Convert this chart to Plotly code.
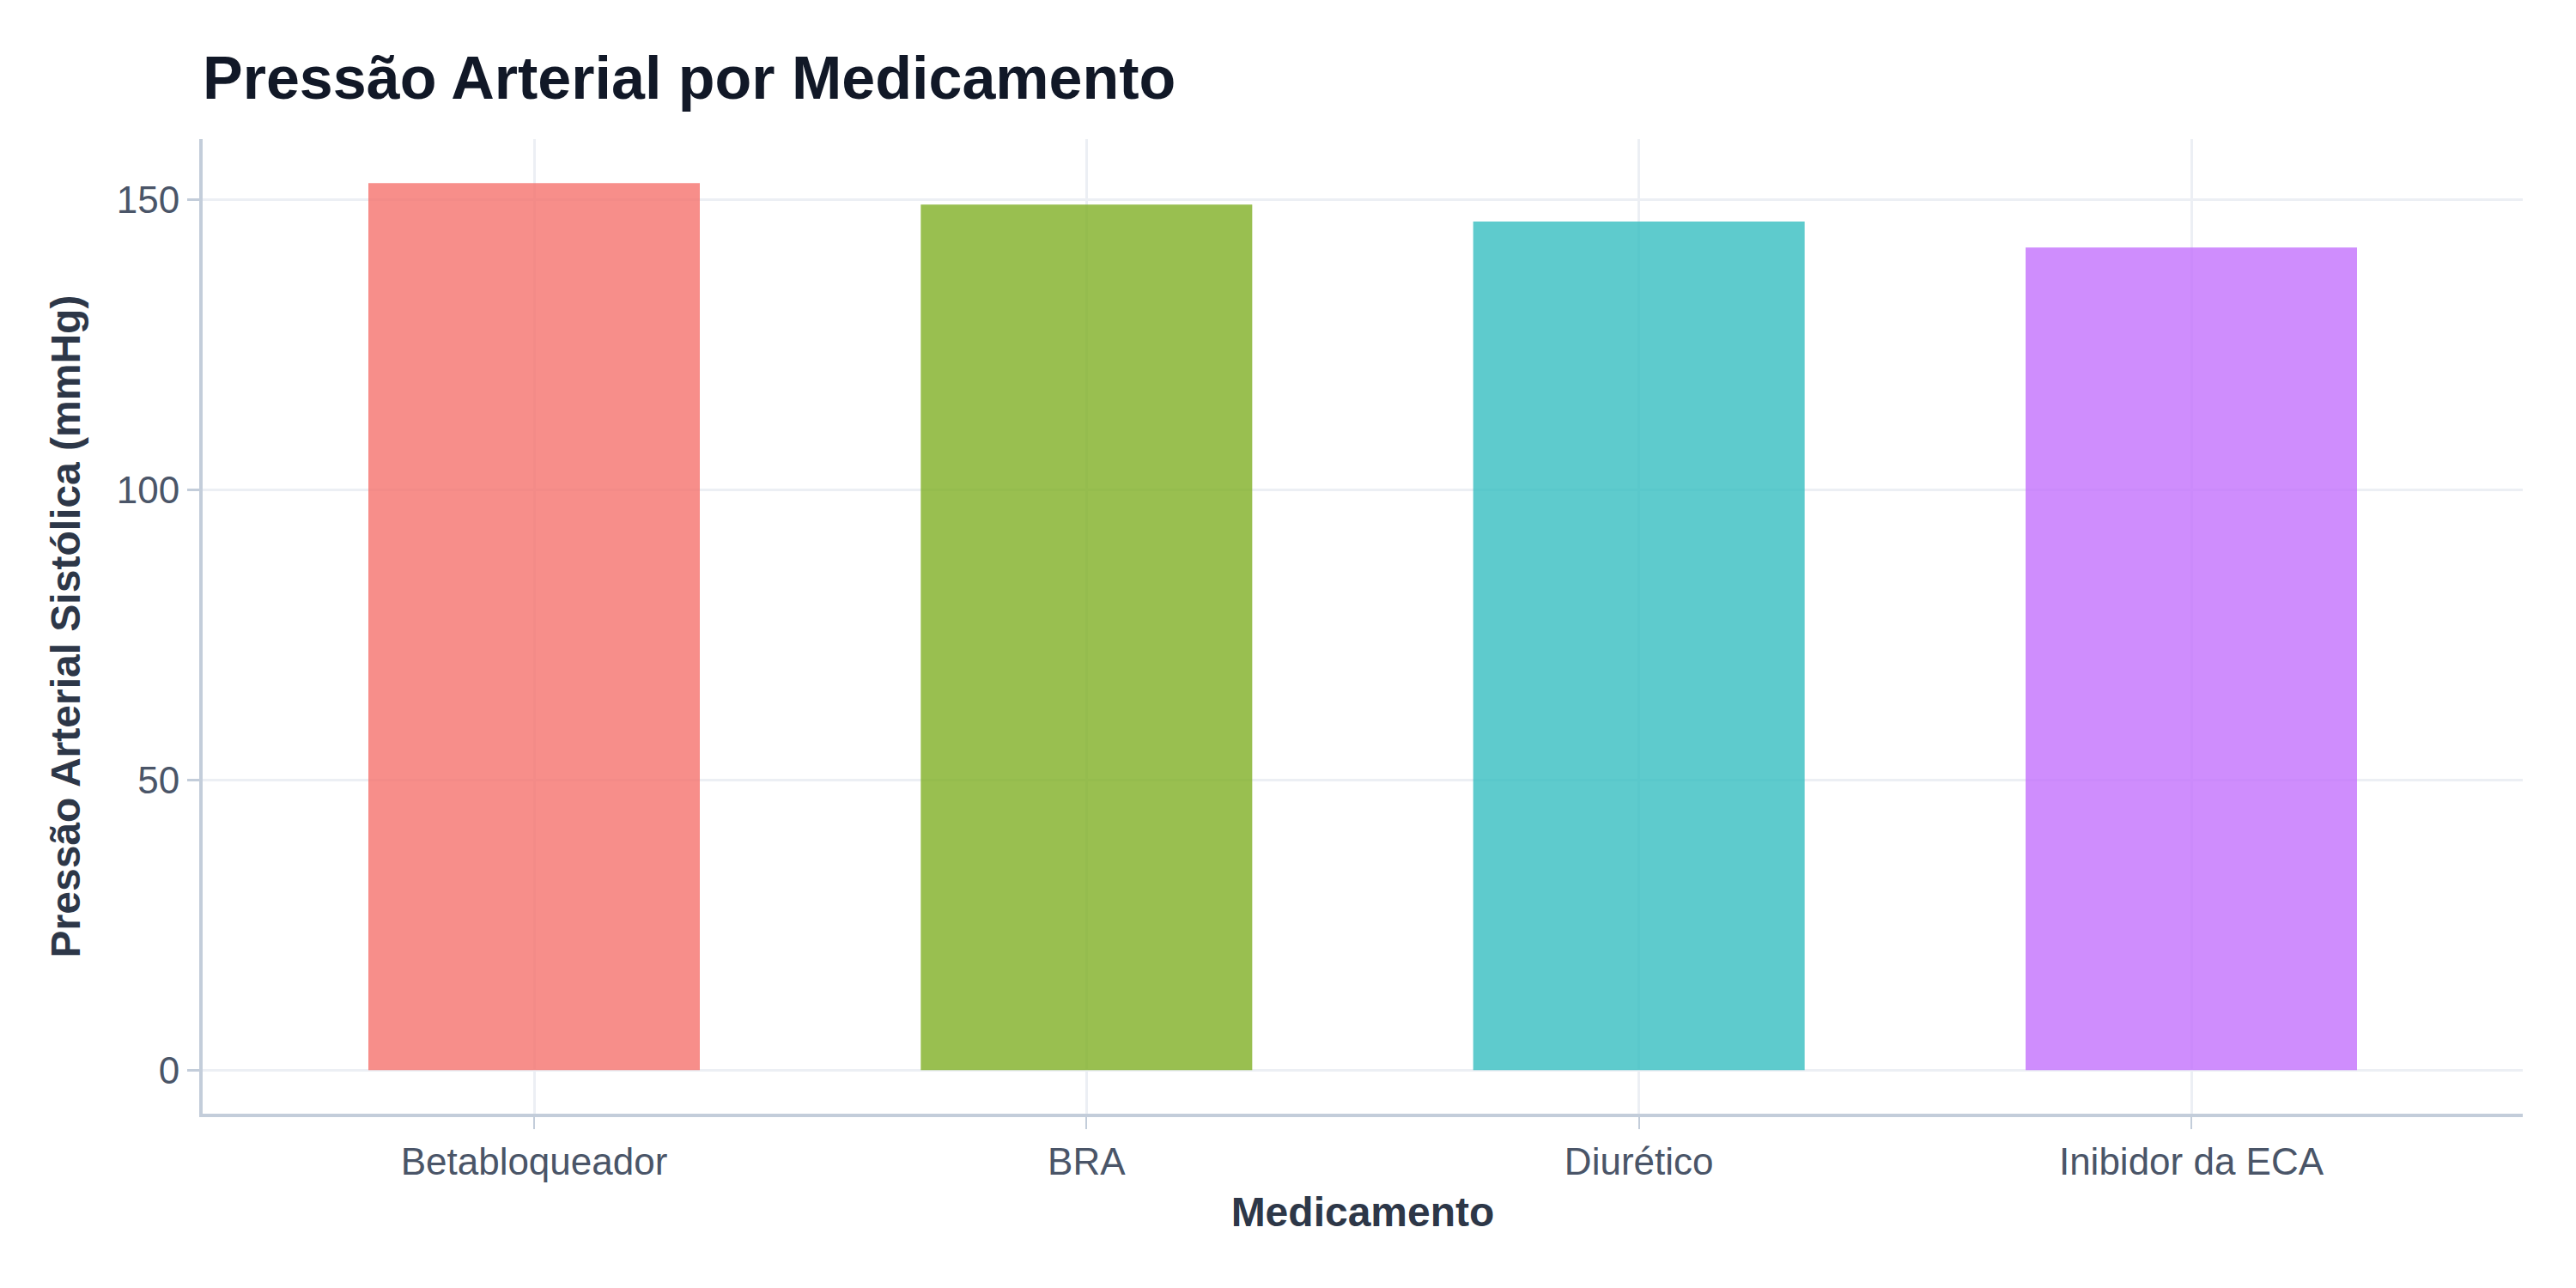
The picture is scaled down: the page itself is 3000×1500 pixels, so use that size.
import plotly.graph_objects as go

categories = ["Betabloqueador", "BRA", "Diurético", "Inibidor da ECA"]
values = [152.9, 149.2, 146.3, 141.8]
colors = ["#F5726D", "#7FAF24", "#36BEC0", "#C370FC"]
y_ticks = [0, 50, 100, 150]

FONT = "Liberation Sans, Arial, Helvetica, sans-serif"

fig = go.Figure(
    go.Bar(
        x=categories,
        y=values,
        marker=dict(color=colors, line=dict(width=0)),
        opacity=0.8,
        width=0.6,
        showlegend=False,
    )
)

fig.update_layout(
    width=3000,
    height=1500,
    margin=dict(l=228, r=70, t=154, b=211),
    paper_bgcolor="white",
    plot_bgcolor="white",
    font=dict(family=FONT, color="#4a5568"),
    title=dict(
        text="<b>Pressão Arterial por Medicamento</b>",
        font=dict(family=FONT, size=70, color="#111827"),
        x=228 / 3000,
        xanchor="left",
        y=1 - 82 / 1500,
        yanchor="middle",
    ),
    xaxis=dict(
        range=[-0.6, 3.6],
        showgrid=True,
        gridcolor="#eceff4",
        gridwidth=3,
        showline=True,
        linecolor="#c3cdda",
        linewidth=4,
        ticks="outside",
        ticklen=14,
        tickwidth=2,
        tickcolor="#c3cdda",
        tickfont=dict(family=FONT, size=44, color="#4a5568"),
        title=dict(
            text="<b>Medicamento</b>",
            font=dict(family=FONT, size=48, color="#2d3748"),
            standoff=20,
        ),
        zeroline=False,
    ),
    yaxis=dict(
        range=[-7.5, 160.5],
        tickvals=y_ticks,
        showgrid=True,
        gridcolor="#eceff4",
        gridwidth=3,
        showline=True,
        linecolor="#c3cdda",
        linewidth=4,
        ticks="outside",
        ticklen=14,
        tickwidth=3,
        tickcolor="#c3cdda",
        tickfont=dict(family=FONT, size=44, color="#4a5568"),
        title=dict(
            text="<b>Pressão Arterial Sistólica (mmHg)</b>",
            font=dict(family=FONT, size=48, color="#2d3748"),
            standoff=28,
        ),
        zeroline=False,
    ),
)

fig.write_html("out.html")
